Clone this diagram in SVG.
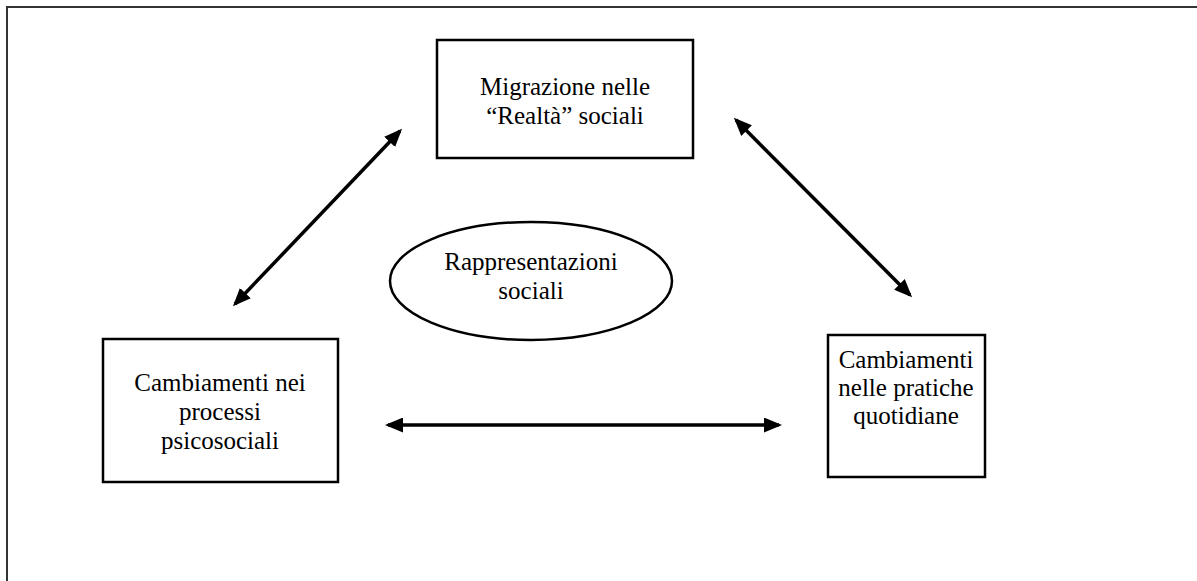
<svg xmlns="http://www.w3.org/2000/svg" width="1197" height="581" viewBox="0 0 1197 581">
<style>
.box{fill:#fff;stroke:#000;stroke-width:2.5}
.frame{fill:none;stroke:#333;stroke-width:2}
.t{font-family:"Liberation Serif","Times New Roman",serif;font-size:25px;fill:#000;text-anchor:middle}
.c{stroke:#000;stroke-width:3.5;fill:none;marker-start:url(#ah);marker-end:url(#ah)}
</style>
<defs>
<marker id="ah" viewBox="0 0 18 15" refX="15" refY="7.5" markerWidth="18" markerHeight="15" markerUnits="userSpaceOnUse" orient="auto-start-reverse">
<path d="M0,0 L18,7.5 L0,15 z" fill="#000"/>
</marker>
</defs>
<rect class="frame" x="7" y="7" width="1300" height="700"/>
<g id="n-migrazione">
<rect class="box" x="437" y="40" width="256" height="118"/>
<text class="t" x="565" y="95">Migrazione nelle</text>
<text class="t" x="565" y="124">“Realtà” sociali</text>
</g>
<g id="n-rappresentazioni">
<ellipse class="box" cx="531" cy="281" rx="141" ry="59"/>
<text class="t" x="531" y="270">Rappresentazioni</text>
<text class="t" x="531" y="299">sociali</text>
</g>
<g id="n-processi">
<rect class="box" x="103" y="339" width="235" height="143"/>
<text class="t" x="220" y="391">Cambiamenti nei</text>
<text class="t" x="220" y="420">processi</text>
<text class="t" x="220" y="449">psicosociali</text>
</g>
<g id="n-pratiche">
<rect class="box" x="828" y="335" width="157" height="142"/>
<text class="t" x="906" y="368">Cambiamenti</text>
<text class="t" x="906" y="396">nelle pratiche</text>
<text class="t" x="906" y="424">quotidiane</text>
</g>
<g id="connectors">
<line class="c" x1="235" y1="304" x2="400" y2="131"/>
<line class="c" x1="736" y1="120" x2="910" y2="295"/>
<line class="c" x1="388" y1="425" x2="779" y2="425"/>
</g>
</svg>
